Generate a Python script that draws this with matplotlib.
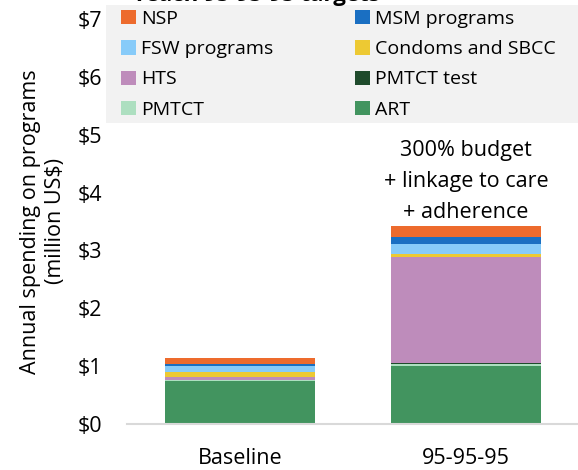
import numpy as np
import matplotlib.pyplot as plt
from matplotlib.patches import Rectangle

plt.rcParams['font.family'] = ['Open Sans', 'DejaVu Sans']

# scenarios and spending by program (million US$), bottom to top
scenarios = ['Baseline', '95-95-95']
programs = ['ART', 'PMTCT', 'PMTCT test', 'HTS', 'Condoms and SBCC',
            'FSW programs', 'MSM programs', 'NSP']
art = [0.746, 1.003]
pmtct = [0.017, 0.028]
pmtct_test = [0.005, 0.017]
hts = [0.052, 1.833]
condoms = [0.086, 0.052]
fsw = [0.098, 0.172]
msm = [0.034, 0.133]
nsp = [0.103, 0.190]
colors = ['#42945f', '#addfc0', '#1f4b2c', '#be8cbb', '#edc933',
          '#87cbf9', '#1a6fc2', '#ed6b2d']
yticks = [0, 1, 2, 3, 4, 5, 6, 7]
ytick_labels = ['$0', '$1', '$2', '$3', '$4', '$5', '$6', '$7']

series = [art, pmtct, pmtct_test, hts, condoms, fsw, msm, nsp]

W, H = 578, 470
fig = plt.figure(figsize=(W / 100, H / 100), dpi=100)
ax = fig.add_axes([127 / W, 1 - 424 / H, 452 / W, 405 / H])

x = np.arange(len(scenarios))
bottom = np.zeros(len(scenarios))
handles = {}
for name, vals, c in zip(programs, series, colors):
    b = ax.bar(x, vals, width=0.668, bottom=bottom, color=c, label=name)
    handles[name] = b
    bottom += np.array(vals)

ax.set_xlim(-0.5, 1.5)
ax.set_ylim(0, 7)
ax.set_yticks(yticks)
ax.set_yticklabels(ytick_labels)
ax.set_xticks(x)
ax.set_xticklabels(scenarios)
ax.tick_params(axis='y', length=0, pad=18, labelsize=15.5)
ax.tick_params(axis='x', length=0, pad=17, labelsize=15.5)
for s in ['top', 'right', 'left']:
    ax.spines[s].set_visible(False)
ax.spines['bottom'].set_color('#d9d9d9')
ax.spines['bottom'].set_linewidth(1.5)

ax.set_ylabel('Annual spending on programs\n(million US$)', fontsize=15.5,
              labelpad=8, linespacing=1.24)

ax.text(1, 3.56, '300% budget\n+ linkage to care\n+ adherence',
        ha='center', va='baseline', fontsize=15.5, linespacing=1.63)

# legend on grey panel, one legend per column
fig.patches.append(Rectangle((106 / W, 1 - 122.5 / H), (W - 106) / W, 117.5 / H,
                             transform=fig.transFigure, facecolor='#f2f2f2',
                             edgecolor='none', zorder=0))
cols = [['NSP', 'FSW programs', 'HTS', 'PMTCT'],
        ['MSM programs', 'Condoms and SBCC', 'PMTCT test', 'ART']]
for col, x0 in zip(cols, [121, 355]):
    leg = fig.legend([handles[n] for n in col], col, frameon=False,
                     loc='upper left', bbox_to_anchor=(x0 / W, 1 - 10 / H),
                     fontsize=14, handlelength=0.75, handleheight=0.75,
                     handletextpad=0.27, labelspacing=0.63, borderpad=0,
                     borderaxespad=0)

fig.text(258 / W, 1 - 1.5 / H, 'reach 95-95-95 targets', ha='center',
         va='baseline', fontsize=16, fontweight='bold')

fig.savefig('out.png', dpi=100)
